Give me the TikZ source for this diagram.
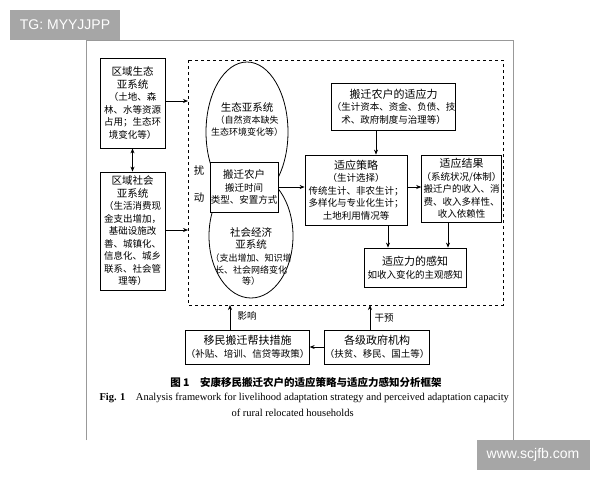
\documentclass[tikz,border=0pt]{standalone}
\usepackage{fontspec}
\setmainfont{Liberation Serif}
\newfontfamily\cjk{Noto Sans CJK SC}
\newfontfamily\wm{Liberation Sans}
\usetikzlibrary{arrows.meta}
\begin{document}
\begin{tikzpicture}[x=1pt,y=-1pt,
  bx/.style={draw,line width=0.8pt,align=center,inner sep=0pt,font=\cjk\fontsize{9.5}{12.5}\selectfont},
  arr/.style={-{Stealth[length=5pt,width=4pt]},line width=0.7pt},
  wmk/.style={fill=black!35,text=white,font=\wm\fontsize{14}{16}\selectfont,inner sep=0pt}]
\useasboundingbox (0,0) rectangle (600,480);
\fill[white] (0,0) rectangle (600,480);
\draw[black!40,line width=0.5pt] (86,440) -- (86,40) -- (513,40) -- (513,440);
\node[wmk,minimum width=110,minimum height=30] (w1) at (65,25) {TG: MYYJJPP};
\node[wmk,minimum width=113,minimum height=30] (w2) at (533,455) {www.scjfb.com};
% left boxes
\node[bx,minimum width=65,minimum height=90] (eco) at (132.5,103) {\fontsize{10.5}{13}\selectfont 区域生态\\\fontsize{10.5}{13}\selectfont 亚系统\\（土地、森\\林、水等资源\\占用；生态环\\境变化等）};
\node[bx,minimum width=65,minimum height=118] (soc) at (132.5,231) {\fontsize{10.5}{13}\selectfont 区域社会\\\fontsize{10.5}{13}\selectfont 亚系统\\（生活消费现\\金支出增加，\\基础设施改\\善、城镇化、\\信息化、城乡\\联系、社会管\\理等）};
% dashed frame
\draw[dashed,line width=0.8pt] (188,60) rectangle (503,305);
\coordinate (d1) at (188,101);
\coordinate (d2) at (188,230);
\draw[arr] (eco.east |- d1) -- (d1);
\draw[arr] (soc.east |- d2) -- (d2);
\draw[{Stealth[length=5pt,width=4pt]}-{Stealth[length=5pt,width=4pt]},line width=0.7pt] (eco) -- (soc);
% ellipses
\draw[line width=0.8pt] (247,132) ellipse (41 and 70);
\draw[line width=0.8pt] (251,236) ellipse (42 and 62);
\node[align=center,font=\cjk\fontsize{9}{12}\selectfont] (ecot) at (247,119) {\fontsize{10.5}{13}\selectfont 生态亚系统\\（自然资本缺失\\生态环境变化等）};
\node[align=center,font=\cjk\fontsize{9}{12}\selectfont] (soct) at (251,257) {\fontsize{10.5}{13}\selectfont 社会经济\\\fontsize{10.5}{13}\selectfont 亚系统\\（支出增加、知识增\\长、社会网络变化\\等）};
\node[bx,fill=white,minimum width=68,minimum height=50] (hh) at (244,187) {\fontsize{10.5}{13}\selectfont 搬迁农户\\\fontsize{9.5}{13}\selectfont 搬迁时间\\\fontsize{9.5}{13}\selectfont 类型、安置方式};
\node[font=\cjk\fontsize{10.5}{12}\selectfont] (r1) at (199,170) {扰};
\node[font=\cjk\fontsize{10.5}{12}\selectfont] (r2) at (199,198) {动};
% right boxes
\node[bx,minimum width=113,minimum height=47] (cap) at (393.5,106.5) {\fontsize{11}{14}\selectfont 搬迁农户的适应力\\（生计资本、资金、负债、技\\术、政府制度与治理等）};
\node[bx,minimum width=102,minimum height=70] (str) at (356,190) {\fontsize{11}{13}\selectfont 适应策略\\（生计选择）\\传统生计、非农生计；\\多样化与专业化生计；\\土地利用情况等};
\node[bx,minimum width=77,minimum height=67] (res) at (461.5,188.5) {\fontsize{11}{13}\selectfont 适应结果\\（系统状况/体制）\\搬迁户的收入、消\\费、收入多样性、\\收入依赖性};
\node[bx,minimum width=102,minimum height=39] (per) at (415,267.5) {\fontsize{11}{14}\selectfont 适应力的感知\\如收入变化的主观感知};
\draw[arr] (hh.east |- 0,187) -- (str.west |- 0,187);
\draw[arr] (cap.south -| 376,0) -- (str.north -| 376,0);
\draw[arr] (str.east |- 0,187) -- (res.west |- 0,187);
\draw[arr] (str.south -| 388,0) -- (per.north -| 388,0);
\draw[arr] (res.south -| 448,0) -- (per.north -| 448,0);
% bottom
\node[bx,minimum width=109,minimum height=34] (mig) at (247.5,347) {\fontsize{11}{14}\selectfont 移民搬迁帮扶措施\\\fontsize{9.5}{12}\selectfont（补贴、培训、信贷等政策）};
\node[bx,minimum width=98,minimum height=34] (gov) at (377,347) {\fontsize{11}{14}\selectfont 各级政府机构\\\fontsize{9.5}{12}\selectfont（扶贫、移民、国土等）};
\coordinate (u1) at (230,305);
\coordinate (u2) at (370,305);
\draw[arr] (mig.north -| u1) -- (u1);
\draw[arr] (gov.north -| u2) -- (u2);
\node[font=\cjk\fontsize{9.5}{11}\selectfont] (l1) at (247,316) {影响};
\node[font=\cjk\fontsize{9.5}{11}\selectfont] (l2) at (384,318) {干预};
\draw[arr] (gov) -- (mig);
% caption
\node[font=\cjk\fontsize{10.5}{12}\selectfont] (c1) at (306,382) {\textbf{图 1\quad 安康移民搬迁农户的适应策略与适应力感知分析框架}};
\node[anchor=west,font=\fontsize{10.5}{12}\selectfont] (c2) at (96,398) {\textbf{Fig. 1}\quad Analysis framework for livelihood adaptation strategy and perceived adaptation capacity};
\node[anchor=west,font=\fontsize{10.5}{12}\selectfont] (c3) at (228,413) {of rural relocated households};
\end{tikzpicture}
\end{document}
